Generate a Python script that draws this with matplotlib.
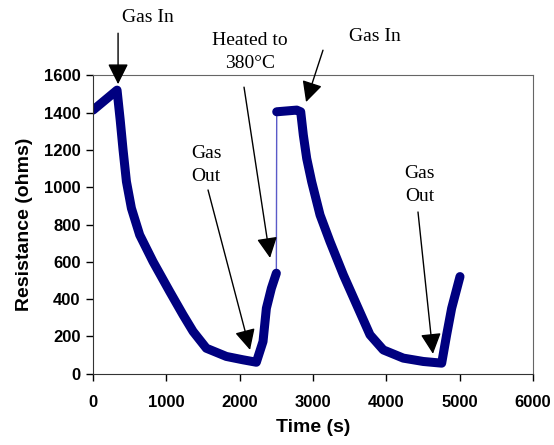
import matplotlib
matplotlib.use("Agg")
import matplotlib.pyplot as plt

# --- DATA ---
# first exposure cycle
t_run1 = [0, 327, 370, 409, 455, 523, 636, 818, 1045, 1227, 1364, 1545,
          1818, 2045, 2227, 2318, 2364, 2432, 2500]
r_run1 = [1413, 1520, 1360, 1200, 1030, 887, 744, 601, 441, 316, 227, 137,
          93, 75, 62, 173, 351, 458, 539]

# second cycle after heating to 380 C
t_run2 = [2505, 2778, 2832, 2868, 2914, 2982, 3096, 3232, 3414, 3596, 3777,
          3959, 4232, 4505, 4755, 4823, 4891, 5005]
r_run2 = [1404, 1413, 1404, 1279, 1154, 1029, 851, 708, 530, 369, 209,
          128, 84, 66, 57, 209, 351, 521]

# annotations: label, text position, arrow tail, arrow tip (data units)
notes = [
    ("Gas In", (750, 1910), (341, 1825), (341, 1552)),
    ("Heated to\n380°C", (2141, 1723), (2059, 1536), (2414, 621)),
    ("Gas\nOut", (1541, 1118), (1568, 985), (2141, 128)),
    ("Gas In", (3845, 1809), (3136, 1734), (2905, 1456)),
    ("Gas\nOut", (4459, 1011), (4432, 867), (4636, 107)),
]

LINE = "#000080"

fig = plt.figure(figsize=(5.54, 4.45), dpi=100)
ax = fig.add_axes([0.168, 0.160, 0.794, 0.671])

# thin connecting line (the jump when heated)
ax.plot([t_run1[-1], t_run2[0]], [r_run1[-1], r_run2[0]], color="#5a5ac8", lw=1)
ax.plot(t_run1, r_run1, color=LINE, lw=6.5, solid_capstyle="round", solid_joinstyle="round")
ax.plot(t_run2, r_run2, color=LINE, lw=6.5, solid_capstyle="round", solid_joinstyle="round")

for label, txt, tail, tip in notes:
    ax.text(txt[0], txt[1], label, ha="center", va="center", fontsize=14,
            family="Liberation Serif", linespacing=1.45, clip_on=False)
    ax.annotate("", xy=tip, xytext=tail, annotation_clip=False,
                arrowprops=dict(arrowstyle="-|>,head_length=0.7,head_width=0.35",
                                color="black", lw=1, mutation_scale=18,
                                shrinkA=0, shrinkB=0))

ax.set_xlim(0, 6000)
ax.set_ylim(0, 1600)
ax.set_xticks(range(0, 6001, 1000))
ax.set_yticks(range(0, 1601, 200))

for lab in ax.get_xticklabels() + ax.get_yticklabels():
    lab.set_fontweight("bold")
    lab.set_family("Liberation Sans")
ax.tick_params(labelsize=12, length=5, width=1, direction="out", pad=10)
ax.tick_params(axis="y", pad=4)

ax.set_xlabel("Time (s)", fontsize=14, fontweight="bold", family="Liberation Sans", labelpad=7)
ax.set_ylabel("Resistance (ohms)", fontsize=14, fontweight="bold", family="Liberation Sans", labelpad=8)

ax.spines["left"].set_color("#333333")
ax.spines["bottom"].set_color("#333333")
ax.spines["top"].set_color("#666666")
ax.spines["right"].set_color("#666666")

plt.savefig("out.png", dpi=100)
